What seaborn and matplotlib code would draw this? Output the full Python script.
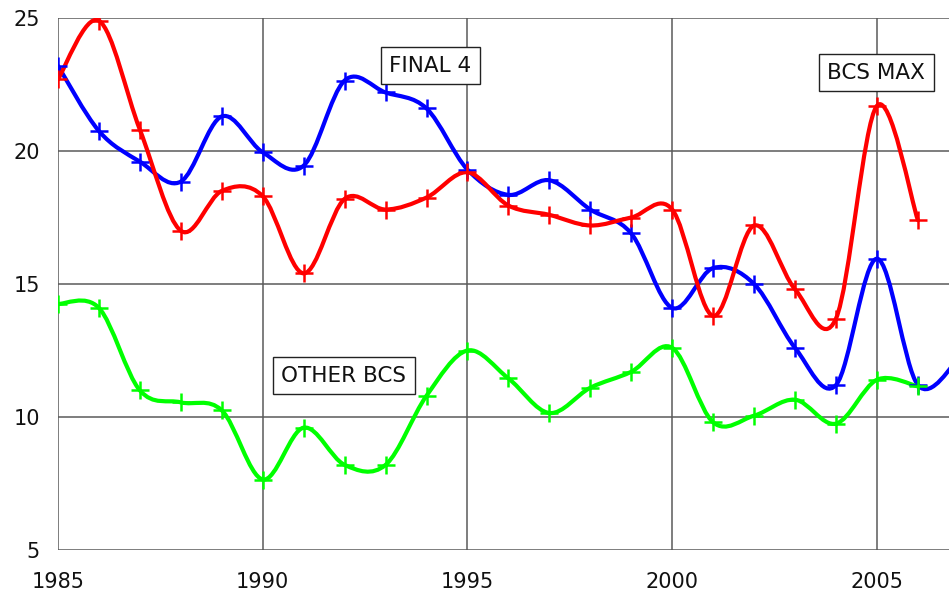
import numpy as np
import pandas as pd
import matplotlib
matplotlib.use("Agg")
import matplotlib.pyplot as plt
from matplotlib.path import Path
from matplotlib.patches import PathPatch
import seaborn as sns

# values
years = [1985, 1986, 1987, 1988, 1989, 1990, 1991, 1992, 1993, 1994, 1995,
         1996, 1997, 1998, 1999, 2000, 2001, 2002, 2003, 2004, 2005, 2006]
final4_years = years + [2007]
final4 = [23.2, 20.75, 19.6, 18.85, 21.3, 19.95, 19.45, 22.65, 22.2, 21.6, 19.3,
          18.35, 18.9, 17.8, 16.9, 14.1, 15.6, 15.0, 12.6, 11.2, 15.95, 11.2, 12.2]
bcs_max = [22.7, 24.9, 20.8, 17.0, 18.5, 18.3, 15.4, 18.2, 17.8, 18.25, 19.2,
           17.95, 17.6, 17.2, 17.5, 17.8, 13.8, 17.2, 14.8, 13.7, 21.7, 17.4]
other_bcs = [14.25, 14.1, 11.0, 10.55, 10.25, 7.65, 9.6, 8.2, 8.2, 10.8, 12.5,
             11.45, 10.15, 11.1, 11.7, 12.6, 9.8, 10.05, 10.65, 9.75, 11.4, 11.15]

series = [
    ("FINAL 4", final4_years, final4, "#0000ff"),
    ("BCS MAX", years, bcs_max, "#ff0000"),
    ("OTHER BCS", years, other_bcs, "#00ff00"),
]

labels = [("FINAL 4", 1994.1, 23.2), ("BCS MAX", 2004.98, 22.95),
          ("OTHER BCS", 1991.98, 11.55)]

sns.set_style("white")
plt.rcParams["font.family"] = ["DejaVu Sans"]

fig = plt.figure(figsize=(9.49, 5.96), dpi=100)
ax = fig.add_axes([58 / 949, 46 / 596, 1 - 58 / 949, 532 / 596])


def smooth_path(x, y):
    # Excel-style smoothed line: cubic Bezier with 1/6 neighbour tangents
    pts = np.column_stack([x, y]).astype(float)
    ext = np.vstack([pts[0], pts, pts[-1]])
    verts = [pts[0]]
    codes = [Path.MOVETO]
    for i in range(len(pts) - 1):
        p0, p1, p2, p3 = ext[i], ext[i + 1], ext[i + 2], ext[i + 3]
        verts += [p1 + (p2 - p0) / 6, p2 - (p3 - p1) / 6, p2]
        codes += [Path.CURVE4] * 3
    return Path(verts, codes)


for name, xs, ys, col in series:
    df = pd.DataFrame({"year": xs, "value": ys})
    ax.add_patch(PathPatch(smooth_path(df["year"], df["value"]), facecolor="none",
                           edgecolor=col, lw=3.0, capstyle="round",
                           joinstyle="round", zorder=3))
    sns.scatterplot(data=df, x="year", y="value", marker="+", s=170,
                    color=col, linewidth=1.8, ax=ax, zorder=4, legend=False)

for txt, x, y in labels:
    ax.text(x, y, txt, fontsize=15.5, ha="center", va="center", color="#111111",
            zorder=6,
            bbox=dict(boxstyle="square,pad=0.4", fc="white", ec="#222222", lw=1))

ax.set_xlim(1985, 2006.76)
ax.set_ylim(5, 25)
ax.set_xticks([1985, 1990, 1995, 2000, 2005])
ax.set_yticks([5, 10, 15, 20, 25])
ax.grid(True, color="#5a5a5a", lw=1.1)
ax.set_axisbelow(True)
for s in ax.spines.values():
    s.set_visible(False)
ax.tick_params(axis="both", direction="out", length=6, width=1.1,
               color="#5a5a5a", labelsize=15, labelcolor="#111111")
ax.tick_params(axis="y", pad=7)
ax.tick_params(axis="x", pad=9.5)
ax.set_xlabel("")
ax.set_ylabel("")

fig.savefig("out.png", dpi=100)
